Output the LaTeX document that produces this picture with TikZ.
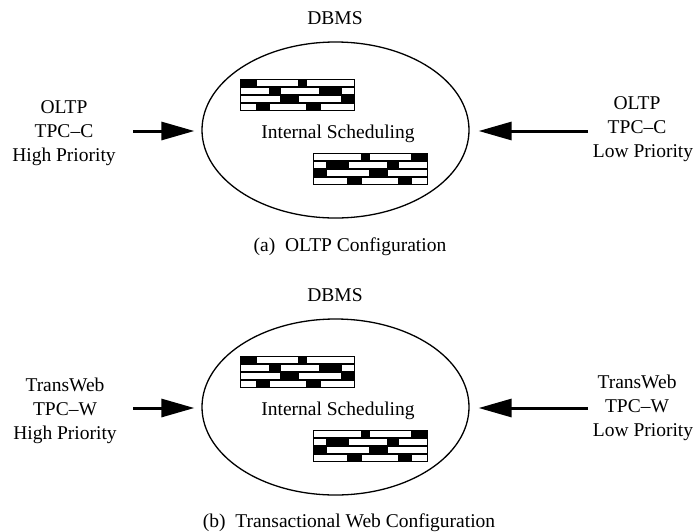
\documentclass[tikz,border=0pt]{standalone}
\usepackage{fontspec}
\setmainfont{Liberation Serif}
\usetikzlibrary{shapes.geometric,arrows.meta}

\tikzset{
  lbl/.style={align=center, anchor=base, inner sep=0pt,
    font=\fontsize{19.5}{24}\selectfont},
  captext/.style={anchor=base, inner sep=0pt, font=\fontsize{19.5}{24}\selectfont},
  dbms/.style={ellipse, draw, line width=1.3pt, inner sep=0pt,
    minimum width=267pt, minimum height=176pt},
  feed/.style={line width=3pt,
    -{Triangle[length=33pt,width=18pt]}},
  bricks/.pic={
    \fill[black] (0,0) rectangle (115,32);
    \foreach \r/\a/\b in {0/17/58, 0/67/114,
                          1/1/29, 1/41/79, 1/102/114,
                          2/1/40, 2/59/101,
                          3/1/16, 3/30/66, 3/81/114}
      \fill[white] (\a,\r*8+1.2) rectangle (\b,\r*8+6.8);
  }
}

\begin{document}
\begin{tikzpicture}[x=1pt,y=-1pt]
\useasboundingbox (0,0) rectangle (696,531);

% ---------- (a) OLTP configuration ----------
\node[lbl] (dbA) at (335,24) {DBMS};
\node[dbms] (ellA) at (335.5,130) {};
\pic at (240,79) {bricks};
\pic[xscale=-1] at (428,153) {bricks};
\node[lbl] (schedA) at (338,138) {Internal Scheduling};
% multi-line labels: the base anchor sits on the last line
\node[lbl] (hiA) at (64,161) {OLTP\\TPC–C\\High Priority};
\node[lbl] (loA) at (637,157) {OLTP\\TPC–C\\\hspace*{12pt}Low Priority};
\coordinate (hiAend) at (133,131);
\coordinate (loAend) at (588,131);
\draw[feed, shorten >=7pt] (hiAend) -- (hiAend -| ellA.west);
\draw[feed, shorten >=9pt] (loAend) -- (loAend -| ellA.east);
\node[captext] (capA) at (350,251) {(a)\ \ OLTP Configuration};

% ---------- (b) Transactional Web configuration ----------
\node[lbl] (dbB) at (335,301) {DBMS};
\node[dbms] (ellB) at (335.5,407) {};
\pic at (240,356) {bricks};
\pic[xscale=-1] at (428,430) {bricks};
\node[lbl] (schedB) at (338,415) {Internal Scheduling};
\node[lbl] (hiB) at (65,439) {TransWeb\\TPC–W\\High Priority};
\node[lbl] (loB) at (637,436) {TransWeb\\TPC–W\\\hspace*{12pt}Low Priority};
\coordinate (hiBend) at (133,408);
\coordinate (loBend) at (588,408);
\draw[feed, shorten >=7pt] (hiBend) -- (hiBend -| ellB.west);
\draw[feed, shorten >=9pt] (loBend) -- (loBend -| ellB.east);
\node[captext] (capB) at (349,527) {(b)\ \ Transactional Web Configuration};
\end{tikzpicture}
\end{document}
